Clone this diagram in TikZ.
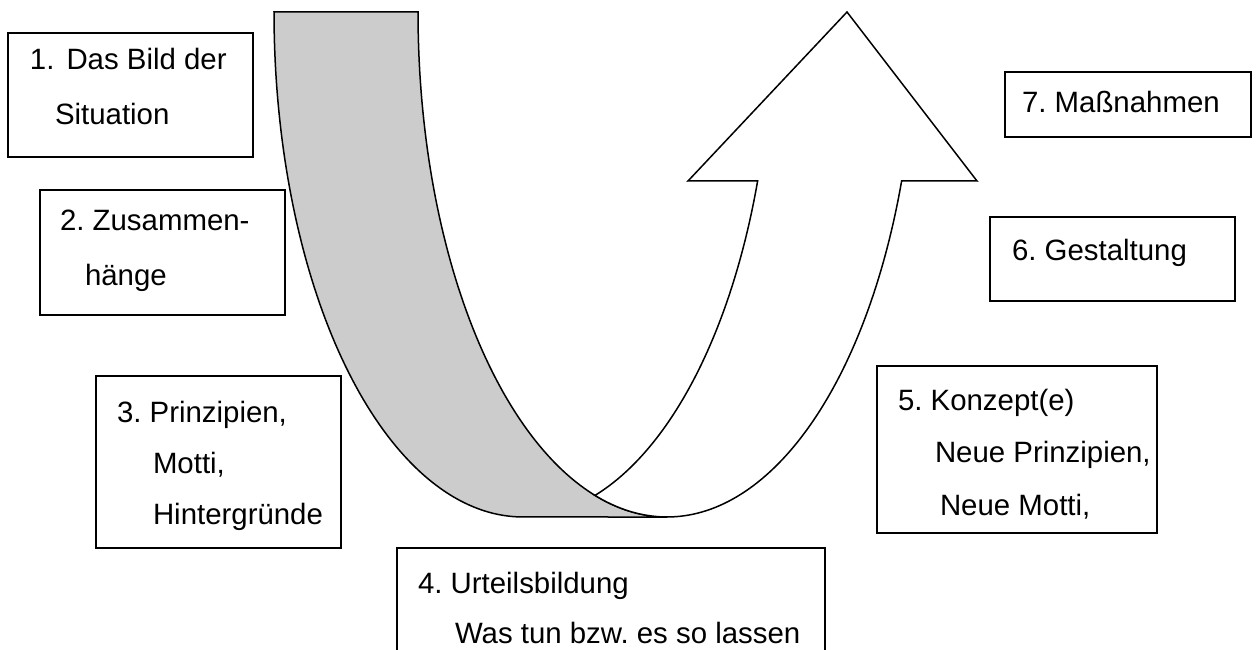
\documentclass[tikz,border=0pt]{standalone}
\usepackage{fontspec}
\setmainfont{Liberation Sans}
\definecolor{bandgray}{HTML}{CCCCCC}
\frenchspacing
\begin{document}
\begin{tikzpicture}[x=1pt,y=-1pt,
  box/.style={draw=black, line width=1.5pt, inner sep=0pt, outer sep=0pt, fill=white},
  lbl/.style={anchor=base west, inner sep=0pt, outer sep=0pt, font=\fontsize{29.4pt}{35pt}\selectfont\frenchspacing},
  shapeline/.style={draw=black, line width=1.5pt, line join=miter}]
\clip (0,0) rectangle (1259,650);
\fill[white] (0,0) rectangle (1259,650);

% grey back arm of the U
\path[shapeline, fill=bandgray]
  plot[domain=180:90, samples=80] ({523+249*cos(\x)},{12+505*sin(\x)})
  -- plot[domain=90:180, samples=80] ({667+249*cos(\x)},{12+505*sin(\x)})
  -- cycle;

% white front arm with arrow head
\path[shapeline, fill=white]
  plot[domain=90:19.55, samples=70] ({667+249*cos(\x)},{12+505*sin(\x)})
  -- (977,181) -- (847,12) -- (688,181)
  -- plot[domain=19.55:73.19, samples=60] ({523+249*cos(\x)},{12+505*sin(\x)})
  -- plot[domain=106.81:90, samples=20] ({667+249*cos(\x)},{12+505*sin(\x)})
  -- cycle;

% boxes
\node[box, minimum width=245pt, minimum height=124pt] (b1) at (130.5,95) {};
\node[box, minimum width=245pt, minimum height=125pt] (b2) at (162.5,252.5) {};
\node[box, minimum width=245pt, minimum height=172pt] (b3) at (218.5,462) {};
\node[box, minimum width=428pt, minimum height=152pt] (b4) at (611,624) {};
\node[box, minimum width=280pt, minimum height=167pt] (b5) at (1017,449.5) {};
\node[box, minimum width=245pt, minimum height=84pt] (b6) at (1112.5,259) {};
\node[box, minimum width=246pt, minimum height=65pt] (b7) at (1128,104.5) {};

% texts
\node[lbl] (t1a) at (30,70) {1.\hspace{12pt}Das Bild der};
\node[lbl] (t1b) at (55,125) {Situation};
\node[lbl] (t2a) at (60,230) {2. Zusammen-};
\node[lbl] (t2b) at (85,285) {hänge};
\node[lbl] (t3a) at (117,422) {3. Prinzipien,};
\node[lbl] (t3b) at (153,473) {Motti,};
\node[lbl] (t3c) at (153,524) {Hintergründe};
\node[lbl] (t4a) at (418,593) {4. Urteilsbildung};
\node[lbl] (t4b) at (455,643) {Was tun bzw. es so lassen};
\node[lbl] (t5a) at (898,410) {5. Konzept(e)};
\node[lbl] (t5b) at (935,462) {Neue Prinzipien,};
\node[lbl] (t5c) at (940,515) {Neue Motti,};
\node[lbl] (t6) at (1012,260) {6. Gestaltung};
\node[lbl] (t7) at (1022,113) {7. Maßnahmen};
\end{tikzpicture}
\end{document}
